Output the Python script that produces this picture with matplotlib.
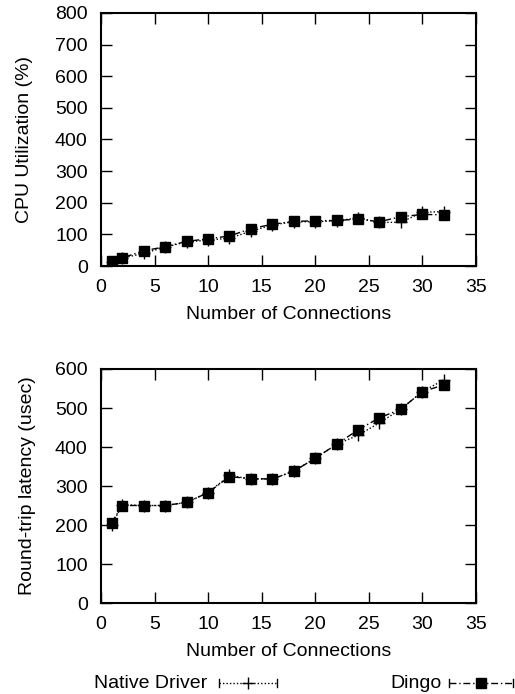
import matplotlib
matplotlib.use("Agg")
import matplotlib.pyplot as plt
from matplotlib.lines import Line2D

plt.rcParams["font.family"] = ["Liberation Sans", "DejaVu Sans"]
plt.rcParams["font.size"] = 14

connections = [1, 2, 4, 6, 8, 10, 12, 14, 16, 18, 20, 22, 24, 26, 28, 30, 32]

cpu_native = [14, 25, 40, 60, 76, 82, 88, 110, 130, 140, 140, 143, 152, 138, 138, 170, 172]
cpu_dingo = [16, 26, 48, 61, 78, 86, 95, 118, 132, 141, 143, 144, 148, 140, 156, 163, 162]

lat_native = [200, 252, 250, 250, 258, 283, 327, 318, 318, 338, 371, 407, 430, 462, 497, 542, 572]
lat_dingo = [206, 250, 250, 250, 258, 283, 324, 319, 318, 338, 371, 407, 444, 475, 497, 542, 559]

series_labels = ["Native Driver", "Dingo"]

fig = plt.figure(figsize=(5.15, 6.94), dpi=100)
ax_top = fig.add_axes([0.196, 0.6167, 0.728, 0.3646])
ax_bot = fig.add_axes([0.196, 0.1311, 0.728, 0.3372])

native_style = dict(color="black", linestyle=(0, (1, 1.5)), linewidth=1.0,
                    marker="+", markersize=9, markeredgewidth=1.0)
dingo_style = dict(color="black", linestyle=(0, (5, 2, 1, 2)), linewidth=1.0,
                   marker="s", markersize=7.5)


def style_axes(ax, ymax, ystep, ylabel, ylabelpad):
    ax.set_xlim(0, 35)
    ax.set_ylim(0, ymax)
    ax.set_xticks(range(0, 36, 5))
    ax.set_yticks(range(0, ymax + 1, ystep))
    ax.tick_params(direction="in", length=8, width=1.0, top=True, right=True,
                   pad=9.5, labelsize=14)
    for s in ax.spines.values():
        s.set_linewidth(1.5)
    ax.set_xlabel("Number of Connections", labelpad=7)
    ax.set_ylabel(ylabel, labelpad=ylabelpad)


ax_top.plot(connections, cpu_native, **native_style)
ax_top.plot(connections, cpu_dingo, **dingo_style)
style_axes(ax_top, 800, 100, "CPU Utilization (%)", 16)

ax_bot.plot(connections, lat_native, **native_style)
ax_bot.plot(connections, lat_dingo, **dingo_style)
style_axes(ax_bot, 600, 100, "Round-trip latency (usec)", 14)

# gnuplot-style legend at the bottom of the figure
ly = 1 - 683 / 694
fig.text(207 / 515, ly, series_labels[0], ha="right", va="center", fontsize=14)
fig.text(442 / 515, ly, series_labels[1], ha="right", va="center", fontsize=14)


def legend_sample(x0, x1, style):
    st = dict(style)
    marker = st.pop("marker")
    ms = st.pop("markersize")
    mew = st.pop("markeredgewidth", 1.0)
    fig.add_artist(Line2D([x0 / 515, x1 / 515], [ly, ly], transform=fig.transFigure, **st))
    for xe in (x0, x1):
        fig.add_artist(Line2D([xe / 515, xe / 515], [ly - 4 / 694, ly + 4 / 694],
                              transform=fig.transFigure, color="black", linewidth=1.0))
    fig.add_artist(Line2D([(x0 + x1) / 2 / 515], [ly], transform=fig.transFigure,
                          marker=marker, markersize=ms, markeredgewidth=mew,
                          color="black", linestyle="none"))


legend_sample(219, 277, native_style)
legend_sample(449, 513, dingo_style)

fig.savefig("out.png", dpi=100)
